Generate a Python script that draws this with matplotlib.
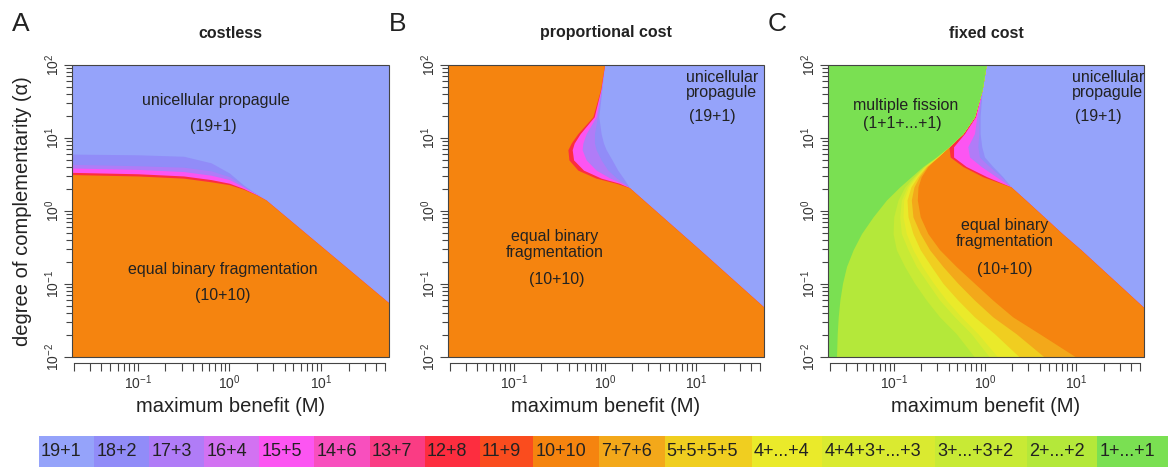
#Phase diagrams of fragmentation modes: costless, proportional cost, fixed cost

import numpy as np
import matplotlib
matplotlib.use("Agg")
import matplotlib.pyplot as plt
from matplotlib.patches import Rectangle
from matplotlib.ticker import FixedLocator, NullFormatter

plt.rcParams["font.family"] = "Liberation Sans"
plt.rcParams["mathtext.fontset"] = "custom"
plt.rcParams["mathtext.rm"] = "Liberation Sans"
plt.rcParams["mathtext.it"] = "Liberation Sans:italic"
plt.rcParams["mathtext.bf"] = "Liberation Sans:bold"

#Fragmentation modes (legend order) and their colours
modes = ["19+1", "18+2", "17+3", "16+4", "15+5", "14+6", "13+7", "12+8", "11+9",
         "10+10", "7+7+6", "5+5+5+5", "4+...+4", "4+4+3+...+3", "3+...+3+2",
         "2+...+2", "1+...+1"]
mode_colors = ["#95A3FA", "#918CF8", "#B07CF7", "#D272F2", "#FC55F2", "#F84FBE",
               "#FA3C84", "#FD2D3F", "#FA4C1E", "#F5840F", "#F3A81A", "#F0CE20",
               "#EAEA2A", "#DAEA30", "#C8EA35", "#B4E83A", "#7AE052"]
color_of = dict(zip(modes, mode_colors))

#Panel A (costless): log10(alpha) of the upper edge of each mode vs log10(M)
a_logM = [-1.75, -1.0, -0.5, -0.2, 0.0, 0.15, 0.3, 0.4, 1.0, 1.80]
a_top_10_10 = [0.50, 0.48, 0.45, 0.40, 0.36, 0.30, 0.22, 0.15, -0.48, -1.32]
a_top_12_8 = [0.53, 0.51, 0.48, 0.43, 0.38, 0.31, 0.22, 0.15, -0.48, -1.32]
a_top_15_5 = [0.59, 0.57, 0.54, 0.49, 0.43, 0.33, 0.225, 0.15, -0.48, -1.32]
a_top_17_3 = [0.64, 0.62, 0.60, 0.55, 0.47, 0.345, 0.228, 0.15, -0.48, -1.32]
a_top_18_2 = [0.78, 0.77, 0.75, 0.66, 0.52, 0.36, 0.23, 0.15, -0.48, -1.32]

#Panel B (proportional cost): log10(M) of the right edge of each mode vs log10(alpha)
b_logA = [2.0, 1.66, 1.29, 1.06, 0.93, 0.84, 0.70, 0.56, 0.45, 0.38, 0.32, -0.53, -1.31, -2.0]
b_edge_10_10 = [-0.005, -0.049, -0.133, -0.297, -0.370, -0.406, -0.395, -0.297, -0.097, 0.122, 0.268, 1.039, 1.736, 2.352]
b_edge_12_8 = [-0.005, -0.046, -0.118, -0.271, -0.337, -0.359, -0.344, -0.235, -0.042, 0.158, 0.268, 1.039, 1.736, 2.352]
b_edge_15_5 = [-0.005, -0.042, -0.097, -0.206, -0.242, -0.250, -0.206, -0.097, 0.056, 0.188, 0.268, 1.039, 1.736, 2.352]
b_edge_17_3 = [-0.005, -0.038, -0.082, -0.115, -0.115, -0.097, -0.042, 0.031, 0.129, 0.213, 0.268, 1.039, 1.736, 2.352]
b_edge_18_2 = [-0.005, -0.035, -0.067, -0.042, -0.016, 0.013, 0.078, 0.140, 0.202, 0.239, 0.268, 1.039, 1.736, 2.352]

#Panel C (fixed cost): log10(M) of the right edge of each mode vs log10(alpha)
c_logA = [2.0, 1.66, 1.29, 1.06, 0.88, 0.74, 0.61, 0.47, 0.33, 0.15, -0.08, -0.31,
          -0.53, -0.76, -0.99, -1.22, -1.45, -1.68, -2.0]
c_edge_1 = [0.013, -0.031, -0.115, -0.242, -0.395, -0.534, -0.679, -0.807, -0.934, -1.080,
            -1.226, -1.353, -1.444, -1.517, -1.561, -1.590, -1.608, -1.619, -1.627]
c_edge_2 = [0.013, -0.031, -0.115, -0.242, -0.395, -0.530, -0.668, -0.781, -0.880, -0.953,
            -1.000, -1.007, -0.971, -0.880, -0.771, -0.643, -0.497, -0.315, -0.115]
c_edge_3332 = [0.013, -0.031, -0.115, -0.242, -0.395, -0.526, -0.661, -0.767, -0.854, -0.916,
               -0.934, -0.916, -0.843, -0.752, -0.625, -0.497, -0.333, -0.151, 0.049]
c_edge_4433 = [0.013, -0.031, -0.115, -0.242, -0.395, -0.523, -0.654, -0.752, -0.836, -0.891,
               -0.898, -0.862, -0.789, -0.687, -0.563, -0.424, -0.260, -0.078, 0.140]
c_edge_4 = [0.013, -0.031, -0.115, -0.242, -0.395, -0.519, -0.647, -0.738, -0.811, -0.854,
            -0.843, -0.789, -0.709, -0.588, -0.461, -0.297, -0.115, 0.104, 0.377]
c_edge_5555 = [0.013, -0.031, -0.115, -0.242, -0.395, -0.515, -0.636, -0.719, -0.778, -0.807,
               -0.789, -0.709, -0.607, -0.461, -0.297, -0.115, 0.086, 0.341, 0.650]
c_edge_776 = [0.013, -0.031, -0.115, -0.242, -0.395, -0.515, -0.625, -0.698, -0.734, -0.741,
              -0.709, -0.625, -0.497, -0.315, -0.115, 0.086, 0.304, 0.596, 0.996]
c_edge_10_10 = [0.013, -0.031, -0.115, -0.242, -0.395, -0.381, -0.242, -0.024, 0.286, 0.446,
                0.647, 0.847, 1.051, 1.251, 1.452, 1.652, 1.852, 2.053, 2.337]
c_edge_12_8 = [0.013, -0.031, -0.104, -0.224, -0.344, -0.344, -0.206, 0.020, 0.286, 0.446,
               0.647, 0.847, 1.051, 1.251, 1.452, 1.652, 1.852, 2.053, 2.337]
c_edge_15_5 = [0.013, -0.031, -0.089, -0.115, -0.188, -0.169, -0.042, 0.122, 0.286, 0.446,
               0.647, 0.847, 1.051, 1.251, 1.452, 1.652, 1.852, 2.053, 2.337]
c_edge_17_3 = [0.013, -0.031, -0.067, -0.067, -0.078, -0.060, 0.049, 0.177, 0.286, 0.446,
               0.647, 0.847, 1.051, 1.251, 1.452, 1.652, 1.852, 2.053, 2.337]
c_edge_18_2 = [0.013, -0.031, -0.053, -0.053, -0.035, -0.005, 0.086, 0.195, 0.286, 0.446,
               0.647, 0.847, 1.051, 1.251, 1.452, 1.652, 1.852, 2.053, 2.337]

W, H = 1176, 467
fig = plt.figure(figsize=(W / 100, H / 100), dpi=100)
txt_col = "#222222"


def px_axes(left, right, top, bottom):
    return fig.add_axes([left / W, 1 - bottom / H, (right - left) / W, (bottom - top) / H])


def style_axes(ax):
    ax.set_xscale("log")
    ax.set_yscale("log")
    ax.set_xlim(10 ** -1.72, 10 ** 1.743)
    ax.set_ylim(0.01, 100)
    ax.set_facecolor(color_of["19+1"])
    for s in ["top", "right", "left"]:
        ax.spines[s].set_visible(False)
    ax.spines["bottom"].set_position(("outward", 4))
    ax.spines["bottom"].set_bounds(0.02, 50)
    ax.spines["bottom"].set_linewidth(0.8)
    ax.spines["bottom"].set_color("#444444")
    ax.add_patch(Rectangle((0, 0), 1, 1, transform=ax.transAxes, fill=False,
                           lw=0.8, ec="#444444", zorder=5, clip_on=False))

    ax.xaxis.set_major_locator(FixedLocator([0.1, 1, 10]))
    xminor = [k * 10.0 ** e for e in range(-2, 2) for k in range(2, 10)]
    xminor = [v for v in xminor if 0.019 < v < 51]
    ax.xaxis.set_minor_locator(FixedLocator(xminor))
    ax.xaxis.set_minor_formatter(NullFormatter())
    ax.set_xticklabels([r"$10^{-1}$", r"$10^{0}$", r"$10^{1}$"])
    ax.tick_params(axis="x", which="both", length=6, width=0.8, color="#444444",
                   pad=1.5, labelsize=10, labelcolor="#333333")

    ax.yaxis.set_major_locator(FixedLocator([0.01, 0.1, 1, 10, 100]))
    yminor = [k * 10.0 ** e for e in range(-2, 2) for k in range(2, 10)]
    ax.yaxis.set_minor_locator(FixedLocator(yminor))
    ax.yaxis.set_minor_formatter(NullFormatter())
    ax.set_yticklabels([r"$10^{-2}$", r"$10^{-1}$", r"$10^{0}$", r"$10^{1}$", r"$10^{2}$"],
                       rotation=90, va="center")
    ax.tick_params(axis="y", which="major", length=6, width=0.8, color="#444444",
                   pad=1.5, labelsize=10, labelcolor="#333333")
    ax.tick_params(axis="y", which="minor", length=4, width=0.8, color="#444444")


def fill_from_bottom(ax, log_m, tops):
    m = 10 ** np.array(log_m)
    for label, top in tops:
        ax.fill_between(m, 1e-3, 10 ** np.array(top), color=color_of[label], lw=0)


def fill_from_left(ax, log_a, edges):
    a = 10 ** np.array(log_a)
    for label, edge in edges:
        ax.fill_betweenx(a, 1e-3, 10 ** np.array(edge), color=color_of[label], lw=0)


panel_x = [(72, 389), (448, 764), (828, 1144)]
axes = [px_axes(l, r, 65, 357) for l, r in panel_x]
for ax in axes:
    style_axes(ax)

#A: costless
fill_from_bottom(axes[0], a_logM, [("18+2", a_top_18_2), ("17+3", a_top_17_3),
                                   ("15+5", a_top_15_5), ("12+8", a_top_12_8),
                                   ("10+10", a_top_10_10)])
#B: proportional cost
fill_from_left(axes[1], b_logA, [("18+2", b_edge_18_2), ("17+3", b_edge_17_3),
                                 ("15+5", b_edge_15_5), ("12+8", b_edge_12_8),
                                 ("10+10", b_edge_10_10)])
#C: fixed cost
fill_from_left(axes[2], c_logA, [("18+2", c_edge_18_2), ("17+3", c_edge_17_3),
                                 ("15+5", c_edge_15_5), ("12+8", c_edge_12_8),
                                 ("10+10", c_edge_10_10), ("7+7+6", c_edge_776),
                                 ("5+5+5+5", c_edge_5555), ("4+...+4", c_edge_4),
                                 ("4+4+3+...+3", c_edge_4433), ("3+...+3+2", c_edge_3332),
                                 ("2+...+2", c_edge_2), ("1+...+1", c_edge_1)])

#region annotations (axes fractions)
def note(ax, fx, fy, s):
    ax.text(fx, fy, s, transform=ax.transAxes, ha="center", va="center",
            fontsize=11.5, color=txt_col, linespacing=1.05, zorder=6)

note(axes[0], 0.454, 0.880, "unicellular propagule")
note(axes[0], 0.445, 0.791, "(19+1)")
note(axes[0], 0.476, 0.298, "equal binary fragmentation")
note(axes[0], 0.476, 0.212, "(10+10)")

note(axes[1], 0.867, 0.932, "unicellular\npropagule")
note(axes[1], 0.835, 0.822, "(19+1)")
note(axes[1], 0.339, 0.385, "equal binary\nfragmentation")
note(axes[1], 0.345, 0.264, "(10+10)")

note(axes[2], 0.247, 0.863, "multiple fission")
note(axes[2], 0.234, 0.801, "(1+1+...+1)")
note(axes[2], 0.886, 0.932, "unicellular\npropagule")
note(axes[2], 0.854, 0.822, "(19+1)")
note(axes[2], 0.560, 0.423, "equal binary\nfragmentation")
note(axes[2], 0.560, 0.298, "(10+10)")

#titles, panel letters, axis labels
titles = ["costless", "proportional cost", "fixed cost"]
letters = ["A", "B", "C"]
letter_x = [12, 389, 768]
for (l, r), t, let, lx in zip(panel_x, titles, letters, letter_x):
    cx = (l + r) / 2
    fig.text(cx / W, 1 - 33 / H, t, ha="center", va="center", fontsize=11.5,
             fontweight="bold", color=txt_col)
    fig.text(lx / W, 1 - 24 / H, let, ha="left", va="center", fontsize=19, color=txt_col)
    fig.text(cx / W, 1 - 407 / H, "maximum benefit (M)", ha="center", va="center",
             fontsize=14.5, color=txt_col)
fig.text(23 / W, 1 - 211 / H, "degree of complementarity (α)", rotation=90,
         ha="center", va="center", fontsize=14.5, color=txt_col)

#legend strip along the bottom, box widths follow the label widths
leg = fig.add_axes([0, 0, 1, 1], zorder=-1)
leg.set_xlim(0, W)
leg.set_ylim(H, 0)
leg.axis("off")
renderer = fig.canvas.get_renderer()
labels = [leg.text(0, 451.5, m, ha="left", va="center", fontsize=13, color=txt_col)
          for m in modes]
tw = np.array([t.get_window_extent(renderer).width for t in labels])
widths = tw + 13
widths = widths * (1129 / widths.sum())
x0 = 39.0
for t, w, c in zip(labels, widths, mode_colors):
    leg.add_patch(Rectangle((x0, 436), w, 31, color=c, lw=0))
    t.set_x(x0 + 2)
    t.set_zorder(3)
    x0 += w

fig.savefig("out.png", dpi=100)
